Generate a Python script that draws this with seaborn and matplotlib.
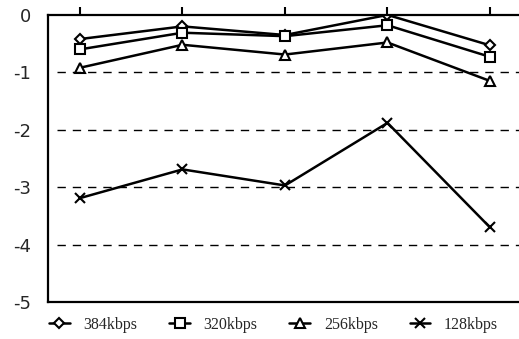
import numpy as np
import pandas as pd
import matplotlib
matplotlib.use("Agg")
import matplotlib.pyplot as plt
import seaborn as sns

# data
points = [1, 2, 3, 4, 5]
series_names = ["384kbps", "320kbps", "256kbps", "128kbps"]
v384 = [-0.42, -0.20, -0.35, 0.00, -0.53]
v320 = [-0.60, -0.31, -0.37, -0.18, -0.73]
v256 = [-0.92, -0.52, -0.69, -0.48, -1.15]
v128 = [-3.19, -2.69, -2.97, -1.88, -3.70]
yticks = [0, -1, -2, -3, -4, -5]

df = pd.DataFrame({
    "x": points * 4,
    "y": v384 + v320 + v256 + v128,
    "rate": np.repeat(series_names, len(points)),
})

sns.set_theme(style="white")
plt.rcParams["font.family"] = ["DejaVu Sans"]

fig = plt.figure(figsize=(5.19, 3.39), dpi=100)
ax = fig.add_axes([0.0925, 0.109, 0.9075, 0.847])

markers = {"384kbps": "D", "320kbps": "s", "256kbps": "^", "128kbps": "x"}
sizes = {"384kbps": 5.5, "320kbps": 6.5, "256kbps": 6.5, "128kbps": 7}
for name in series_names:
    sub = df[df["rate"] == name]
    sns.lineplot(data=sub, x="x", y="y", ax=ax, color="black", lw=1.8,
                 marker=markers[name], markersize=sizes[name],
                 markerfacecolor="white", markeredgecolor="black",
                 markeredgewidth=1.5, label=name, legend=False)

# dashed reference lines
for v in [-1, -2, -3, -4]:
    ax.axhline(v, xmin=0.02, xmax=1, color="black", lw=1, ls=(0, (6, 5)))

ax.set_xlim(0.688, 5.283)
ax.set_ylim(-5, 0)
ax.set_xlabel("")
ax.set_ylabel("")
ax.set_yticks(yticks)
ax.set_yticklabels(["0", "-1", "-2", "-3", "-4", "-5"], fontsize=13)
ax.set_xticks(points)
ax.tick_params(axis="x", which="both", bottom=False, top=True, labelbottom=False,
               direction="out", length=6, width=1.5, color="black")
ax.tick_params(axis="y", left=False, pad=6)

for side in ["left", "top", "bottom"]:
    ax.spines[side].set_color("black")
    ax.spines[side].set_linewidth(1.6)
ax.spines["right"].set_visible(False)

handles, labels = ax.get_legend_handles_labels()
fig.legend(handles, labels, loc="center", bbox_to_anchor=(0.527, 0.042), ncol=4,
           frameon=False, handlelength=1.3, columnspacing=2.0, handletextpad=0.85,
           prop={"family": "Liberation Serif", "size": 11.5})

fig.savefig("out.png", dpi=100)
